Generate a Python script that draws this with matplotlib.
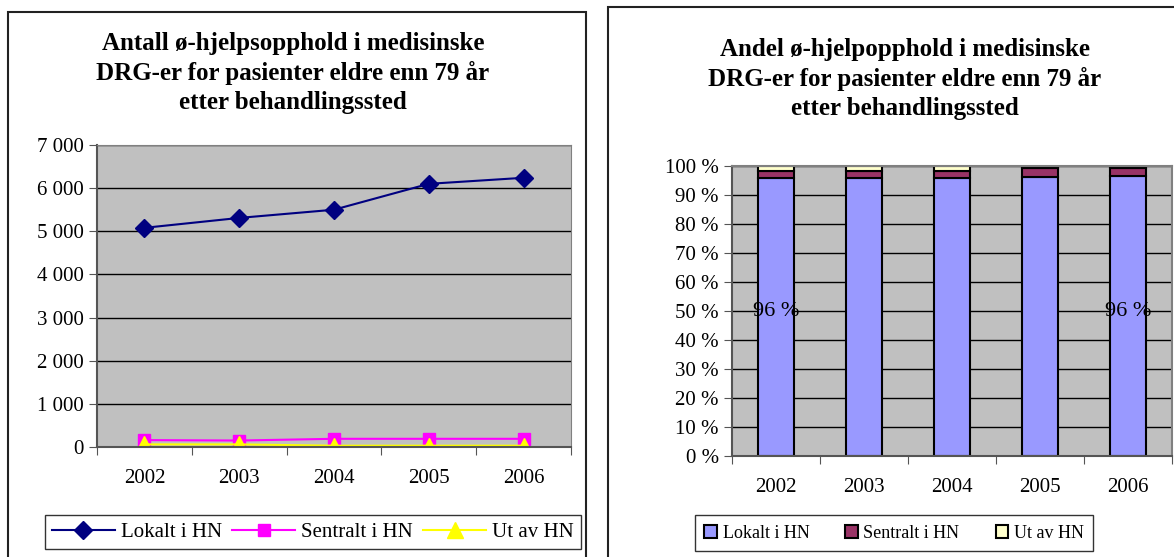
import matplotlib.pyplot as plt
from matplotlib.patches import Rectangle

plt.rcParams['font.family'] = 'Liberation Serif'

years = ['2002', '2003', '2004', '2005', '2006']
lokalt = [5080, 5310, 5500, 6100, 6240]
sentralt = [160, 150, 190, 190, 190]
ut_av = [60, 60, 30, 30, 30]

lokalt_pct = [96.0, 96.0, 96.0, 96.2, 96.4]
sentralt_pct = [2.3, 2.3, 2.3, 3.0, 2.8]
ut_av_pct = [1.7, 1.7, 1.7, 0.8, 0.8]

W, H = 1174, 557
fig = plt.figure(figsize=(W / 100, H / 100), dpi=100)

def fx(px):
    return px / W

def fy(py):
    return 1 - py / H

# panel frames
fig.patches.append(Rectangle((fx(8), fy(570)), fx(586) - fx(8), fy(12) - fy(570),
                             transform=fig.transFigure, fill=False, ec='#222222', lw=1.5))
fig.patches.append(Rectangle((fx(608), fy(570)), fx(1190) - fx(608), fy(7) - fy(570),
                             transform=fig.transFigure, fill=False, ec='#222222', lw=1.5))

title_kw = dict(ha='center', va='center', fontsize=18, fontweight='bold', linespacing=1.32)
fig.text(fx(293), fy(73), 'Antall ø-hjelpsopphold i medisinske\nDRG-er for pasienter eldre enn 79 år\netter behandlingssted', **title_kw)
fig.text(fx(905), fy(79), 'Andel ø-hjelpopphold i medisinske\nDRG-er for pasienter eldre enn 79 år\netter behandlingssted', **title_kw)

# left: line chart
ax1 = fig.add_axes([fx(97), fy(447), fx(571) - fx(97), fy(145) - fy(447)])
ax1.set_facecolor('#C0C0C0')
x = range(len(years))
ax1.plot(x, lokalt, color='#000080', marker='D', markersize=9, lw=1.5, label='Lokalt i HN')
ax1.plot(x, sentralt, color='#FF00FF', marker='s', markersize=9, lw=1.5, label='Sentralt i HN')
ax1.plot(x, ut_av, color='#FFFF00', marker='^', markersize=12, lw=1.5, label='Ut av HN')
ax1.set_xlim(-0.5, 4.5)
ax1.set_ylim(0, 7000)
ax1.set_yticks(range(0, 7001, 1000))
ax1.set_yticklabels(['0'] + [f'{v // 1000} 000' for v in range(1000, 7001, 1000)])
ax1.set_xticks([i - 0.5 for i in range(6)], minor=False)
ax1.set_xticklabels([''] * 6)
ax1.set_xticks(list(x), minor=True)
ax1.set_xticklabels(years, minor=True)
ax1.tick_params(axis='x', which='minor', length=0, pad=16, labelsize=15)
ax1.tick_params(axis='x', which='major', length=6, direction='out', color='#555555')
ax1.tick_params(axis='y', labelsize=15, length=6, color='#555555')
ax1.grid(axis='y', color='black', lw=1)
ax1.set_axisbelow(True)
for s in ['top', 'right']:
    ax1.spines[s].set_color('#808080')
for s in ['left', 'bottom']:
    ax1.spines[s].set_color('#555555')
    ax1.spines[s].set_linewidth(1.5)
leg1 = fig.legend(*ax1.get_legend_handles_labels(), loc='center',
                  bbox_to_anchor=(fx(313), fy(532)), ncol=3, fontsize=15,
                  frameon=True, fancybox=False, edgecolor='black', handlelength=3,
                  columnspacing=0.5, handletextpad=0.3, borderpad=0.35)
leg1.get_frame().set_linewidth(1)

# right: stacked percentage bars
ax2 = fig.add_axes([fx(732), fy(456), fx(1172) - fx(732), fy(166) - fy(456)])
ax2.set_facecolor('#C0C0C0')
bw = 0.41
bottom2 = [a + b for a, b in zip(lokalt_pct, sentralt_pct)]
ax2.bar(x, lokalt_pct, bw, color='#9999FF', ec='black', lw=1.5, label='Lokalt i HN')
ax2.bar(x, sentralt_pct, bw, bottom=lokalt_pct, color='#993366', ec='black', lw=1.5, label='Sentralt i HN')
ax2.bar(x, ut_av_pct, bw, bottom=bottom2, color='#FFFFCC', ec='black', lw=1.5, label='Ut av HN')
for i in [0, 4]:
    ax2.text(i, 50, f'{lokalt_pct[i]:.0f} %', ha='center', va='center', fontsize=16)
ax2.set_xlim(-0.5, 4.5)
ax2.set_ylim(0, 100)
ax2.set_yticks(range(0, 101, 10))
ax2.set_yticklabels([f'{v} %' for v in range(0, 101, 10)])
ax2.set_xticks([i - 0.5 for i in range(6)])
ax2.set_xticklabels([''] * 6)
ax2.set_xticks(list(x), minor=True)
ax2.set_xticklabels(years, minor=True)
ax2.tick_params(axis='x', which='minor', length=0, pad=16, labelsize=15)
ax2.tick_params(axis='x', which='major', length=6, color='#555555')
ax2.tick_params(axis='y', labelsize=15, length=6, color='#555555')
ax2.grid(axis='y', color='black', lw=1)
ax2.set_axisbelow(True)
for s in ['top', 'right']:
    ax2.spines[s].set_color('#808080')
    ax2.spines[s].set_linewidth(1.5)
for s in ['left', 'bottom']:
    ax2.spines[s].set_color('#555555')
    ax2.spines[s].set_linewidth(1.5)
leg2 = fig.legend(*ax2.get_legend_handles_labels(), loc='center',
                  bbox_to_anchor=(fx(894), fy(533)), ncol=3, fontsize=13,
                  frameon=True, fancybox=False, edgecolor='black', handlelength=0.7,
                  handleheight=0.7, columnspacing=2.0, handletextpad=0.3, borderpad=0.5)
leg2.get_frame().set_linewidth(1)

fig.savefig('out.png', dpi=100)
